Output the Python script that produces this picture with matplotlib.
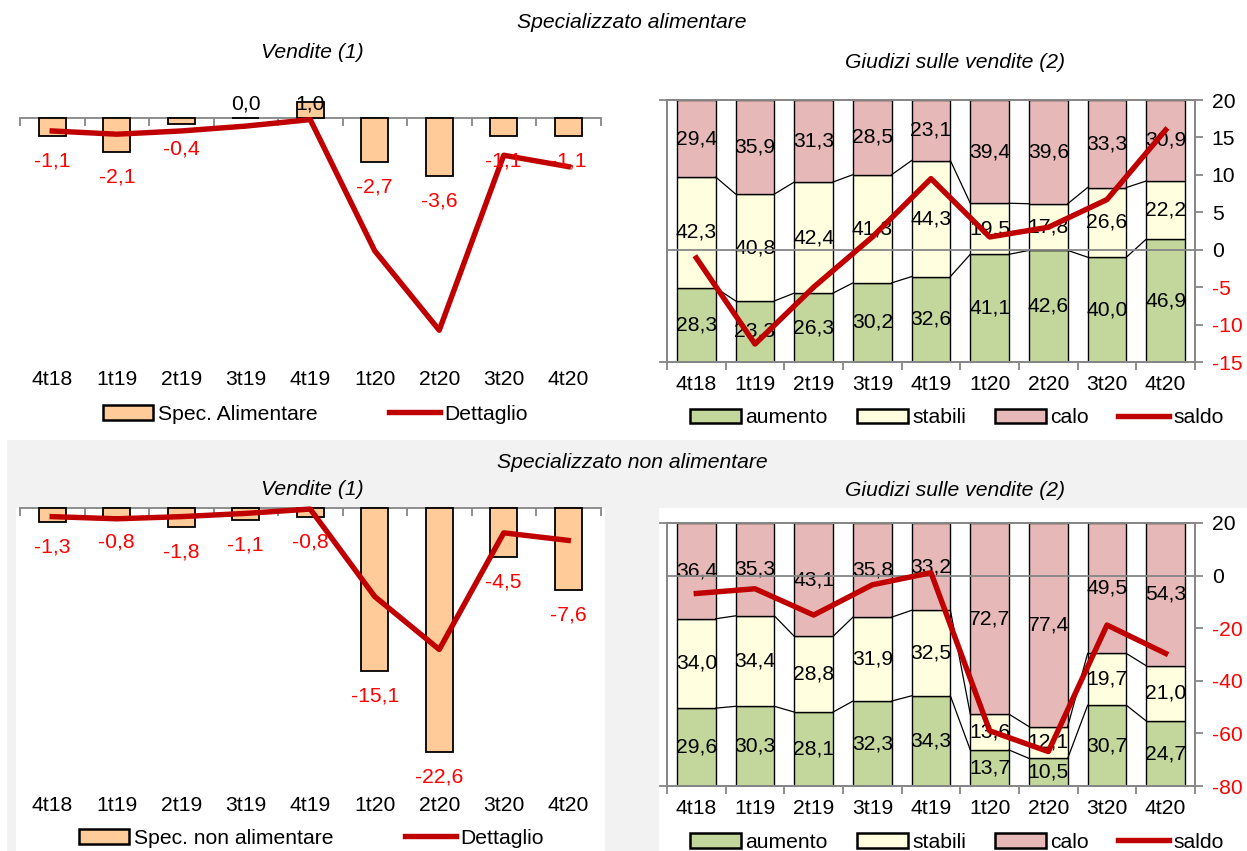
import matplotlib.pyplot as plt
from matplotlib.patches import Rectangle, Patch
from matplotlib.lines import Line2D

plt.rcParams['font.family'] = ['Liberation Sans', 'DejaVu Sans']
plt.rcParams['ytick.labelcolor'] = 'inherit'

W, H = 1247, 851
FS = 15.2

PEACH = '#FFCC99'
DARK_RED = '#C00000'
GREEN = '#C3D69B'
YELLOW = '#FFFFDF'
PINK = '#E6B9B8'
GRAY = '#868686'
NEG_RED = '#FF0000'

periods = ['4t18', '1t19', '2t19', '3t19', '4t19', '1t20', '2t20', '3t20', '4t20']

# vendite (1): variazioni tendenziali
dettaglio = [-0.8, -1.0, -0.8, -0.5, -0.1, -8.2, -13.1, -2.3, -3.0]
alim_vendite = [-1.1, -2.1, -0.4, 0.0, 1.0, -2.7, -3.6, -1.1, -1.1]
nonalim_vendite = [-1.3, -0.8, -1.8, -1.1, -0.8, -15.1, -22.6, -4.5, -7.6]

# giudizi sulle vendite (2): specializzato alimentare
alim_aumento = [28.3, 23.3, 26.3, 30.2, 32.6, 41.1, 42.6, 40.0, 46.9]
alim_stabili = [42.3, 40.8, 42.4, 41.3, 44.3, 19.5, 17.8, 26.6, 22.2]
alim_calo = [29.4, 35.9, 31.3, 28.5, 23.1, 39.4, 39.6, 33.3, 30.9]
alim_saldo = [-1.1, -12.6, -5.0, 1.7, 9.5, 1.7, 3.0, 6.7, 16.0]

# giudizi sulle vendite (2): specializzato non alimentare
nonalim_aumento = [29.6, 30.3, 28.1, 32.3, 34.3, 13.7, 10.5, 30.7, 24.7]
nonalim_stabili = [34.0, 34.4, 28.8, 31.9, 32.5, 13.6, 12.1, 19.7, 21.0]
nonalim_calo = [36.4, 35.3, 43.1, 35.8, 33.2, 72.7, 77.4, 49.5, 54.3]
nonalim_saldo = [-6.8, -5.0, -15.0, -3.5, 1.1, -59.0, -66.9, -18.8, -29.6]


def fmt(v):
    return f'{v:.1f}'.replace('.', ',')


def px_rect(x0, y0, x1, y1):
    return [x0 / W, 1 - y1 / H, (x1 - x0) / W, (y1 - y0) / H]


def vendite_panel(ax, values, label, ylim, legend_xy):
    x = list(range(len(periods)))
    ax.bar(x, values, width=0.42, color=PEACH, edgecolor='black', linewidth=1.3, zorder=2)
    ax.plot(x, dettaglio, color=DARK_RED, lw=3.9, zorder=3)
    ax.set_xlim(-0.5, len(periods) - 0.5)
    ax.set_ylim(*ylim)
    for s in ax.spines.values():
        s.set_visible(False)
    ax.set_yticks([])
    ax.set_xticks(x)
    ax.set_xticklabels(periods)
    ax.tick_params(axis='x', length=0, pad=0, labelsize=FS)
    ax.patch.set_alpha(0)

    # asse orizzontale sullo zero
    zero = (0 - ylim[0]) / (ylim[1] - ylim[0])
    zax = ax.secondary_xaxis(zero)
    zax.set_xticks([i - 0.5 for i in range(len(periods) + 1)])
    zax.set_xticklabels([])
    zax.tick_params(direction='in', length=6, width=1.3, color=GRAY)
    for s in zax.spines.values():
        s.set_color(GRAY)
        s.set_linewidth(1.3)

    for i, v in enumerate(values):
        if v < 0:
            ax.annotate(fmt(v), (i, v), xytext=(0, -18), textcoords='offset points',
                        ha='center', va='center', color=NEG_RED, fontsize=FS, zorder=4)
        else:
            ax.annotate(fmt(v), (i, 0), xytext=(0, 10), textcoords='offset points',
                        ha='center', va='center', color='black', fontsize=FS, zorder=4)

    handles = [Patch(facecolor=PEACH, edgecolor='black', linewidth=1.8),
               Line2D([], [], color=DARK_RED, lw=3.9)]
    ax.legend(handles, [label, 'Dettaglio'], loc='center', ncol=2, frameon=False,
              bbox_to_anchor=(legend_xy[0] / W, 1 - legend_xy[1] / H),
              bbox_transform=fig.transFigure, fontsize=FS, handlelength=2.4,
              handletextpad=0.2, columnspacing=3.4)


def giudizi_panel(ax, aumento, stabili, calo, saldo, ylim2, yticks2, pad, legend_xy):
    x = list(range(len(periods)))
    w = 0.66
    mid = [a + s for a, s in zip(aumento, stabili)]
    ax.bar(x, aumento, w, color=GREEN, edgecolor='black', linewidth=1.0, zorder=2)
    ax.bar(x, stabili, w, bottom=aumento, color=YELLOW, edgecolor='black', linewidth=1.0, zorder=2)
    ax.bar(x, calo, w, bottom=mid, color=PINK, edgecolor='black', linewidth=1.0, zorder=2)
    # linee di serie tra le barre
    for i in range(len(periods) - 1):
        ax.plot([i + w / 2, i + 1 - w / 2], [aumento[i], aumento[i + 1]], color='black', lw=0.9, zorder=2)
        ax.plot([i + w / 2, i + 1 - w / 2], [mid[i], mid[i + 1]], color='black', lw=0.9, zorder=2)
    for i in x:
        ax.text(i, aumento[i] / 2, fmt(aumento[i]), ha='center', va='center', fontsize=FS, zorder=3)
        ax.text(i, aumento[i] + stabili[i] / 2, fmt(stabili[i]), ha='center', va='center', fontsize=FS, zorder=3)
        ax.text(i, mid[i] + calo[i] / 2, fmt(calo[i]), ha='center', va='center', fontsize=FS, zorder=3)

    ax.set_xlim(-0.5, len(periods) - 0.5)
    ax.set_ylim(0, 100)
    ax.set_yticks([0, 100])
    ax.set_yticklabels([])
    ax.tick_params(axis='y', length=6, width=1.3, color=GRAY)
    ax.set_xticks(x)
    ax.set_xticklabels(periods)
    ax.set_xticks([i - 0.5 for i in range(len(periods) + 1)], minor=True)
    ax.tick_params(axis='x', which='major', length=0, pad=pad, labelsize=FS)
    ax.tick_params(axis='x', which='minor', length=6, width=1.3, color=GRAY)
    for s in ax.spines.values():
        s.set_color(GRAY)
        s.set_linewidth(1.3)

    neg = [t for t in yticks2 if t < 0]
    pos = [t for t in yticks2 if t >= 0]

    # asse destro: etichette negative in rosso
    ax3 = ax.twinx()
    ax3.set_ylim(*ylim2)
    ax3.set_yticks(neg)
    ax3.set_yticklabels([str(t) for t in neg], color=NEG_RED)
    ax3.tick_params(axis='y', length=6, width=1.3, color=GRAY, pad=6,
                    labelsize=FS, labelcolor=NEG_RED)
    for s in ax3.spines.values():
        s.set_visible(False)

    ax2 = ax.twinx()
    ax2.plot(x, saldo, color=DARK_RED, lw=3.9, zorder=3)
    ax2.axhline(0, color=GRAY, lw=1.3, zorder=1)
    ax2.set_ylim(*ylim2)
    ax2.set_yticks(pos)
    ax2.set_yticklabels([str(t) for t in pos], color='black')
    ax2.tick_params(axis='y', length=6, width=1.3, color=GRAY, pad=6,
                    labelsize=FS, labelcolor='black')
    for s in ax2.spines.values():
        s.set_color(GRAY)
        s.set_linewidth(1.3)

    handles = [Patch(facecolor=GREEN, edgecolor='black', linewidth=1.8),
               Patch(facecolor=YELLOW, edgecolor='black', linewidth=1.8),
               Patch(facecolor=PINK, edgecolor='black', linewidth=1.8),
               Line2D([], [], color=DARK_RED, lw=3.9)]
    ax2.legend(handles, ['aumento', 'stabili', 'calo', 'saldo'], loc='center', ncol=4,
               frameon=False, bbox_to_anchor=(legend_xy[0] / W, 1 - legend_xy[1] / H),
               bbox_transform=fig.transFigure, fontsize=FS, handlelength=2.4,
               handletextpad=0.2, columnspacing=1.4)


fig = plt.figure(figsize=(W / 100, H / 100), dpi=100)

# sfondo della sezione inferiore
fig.add_artist(Rectangle((7 / W, 0), 1 - 7 / W, (H - 440) / H, transform=fig.transFigure,
                         facecolor='#F2F2F2', edgecolor='none', zorder=-2))
fig.add_artist(Rectangle((16 / W, 0), (605 - 16) / W, (H - 508) / H, transform=fig.transFigure,
                         facecolor='white', edgecolor='none', zorder=-1))
fig.add_artist(Rectangle((659 / W, 0), (W - 659) / W, (H - 508) / H, transform=fig.transFigure,
                         facecolor='white', edgecolor='none', zorder=-1))

ax_tl = fig.add_axes(px_rect(20, 96, 600.5, 370))
vendite_panel(ax_tl, alim_vendite, 'Spec. Alimentare', (-15.556, 1.358), (315, 414))

ax_bl = fig.add_axes(px_rect(20, 506, 600.5, 796))
vendite_panel(ax_bl, nonalim_vendite, 'Spec. non alimentare', (-26.667, 0.185), (311, 838))

ax_tr = fig.add_axes(px_rect(667, 100, 1195, 362))
giudizi_panel(ax_tr, alim_aumento, alim_stabili, alim_calo, alim_saldo,
              (-15, 20), list(range(-15, 21, 5)), 9.0, (957, 418))

ax_br = fig.add_axes(px_rect(667, 523, 1195, 786))
giudizi_panel(ax_br, nonalim_aumento, nonalim_stabili, nonalim_calo, nonalim_saldo,
              (-80, 20), list(range(-80, 21, 20)), 9.7, (957, 842))

# titoli
fig.text(632 / W, 1 - 22 / H, 'Specializzato alimentare', ha='center', va='center', style='italic', fontsize=FS)
fig.text(312 / W, 1 - 52 / H, 'Vendite (1)', ha='center', va='center', style='italic', fontsize=FS)
fig.text(955 / W, 1 - 62 / H, 'Giudizi sulle vendite (2)', ha='center', va='center', style='italic', fontsize=FS)
fig.text(632 / W, 1 - 462 / H, 'Specializzato non alimentare', ha='center', va='center', style='italic', fontsize=FS)
fig.text(312 / W, 1 - 489 / H, 'Vendite (1)', ha='center', va='center', style='italic', fontsize=FS)
fig.text(955 / W, 1 - 490 / H, 'Giudizi sulle vendite (2)', ha='center', va='center', style='italic', fontsize=FS)

fig.savefig('out.png', dpi=100)
